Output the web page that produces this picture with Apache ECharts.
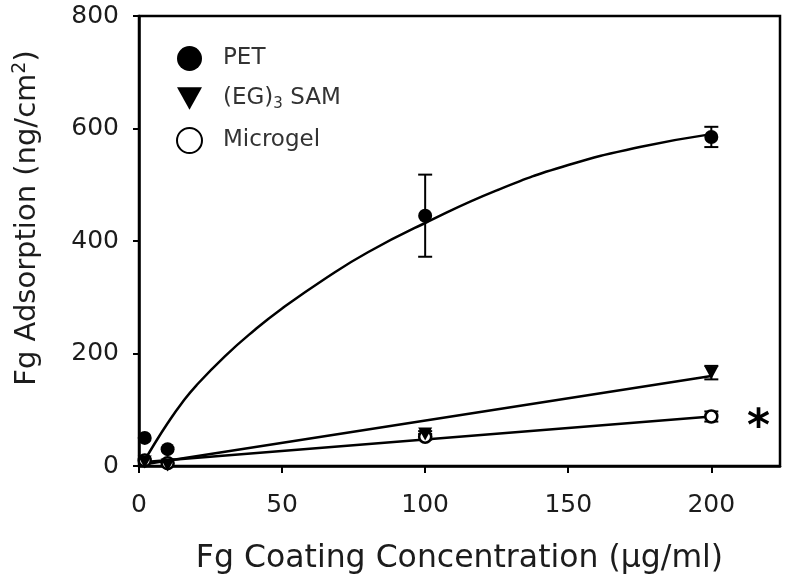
<!DOCTYPE html>
<html><head><meta charset="utf-8">
<script src="https://cdn.jsdelivr.net/npm/echarts@6/dist/echarts.min.js"></script>
<style>html,body{margin:0;padding:0;background:#fff}#c{width:790px;height:579px}</style>
</head><body><div id="c"></div>
<script>
// ---- data ----
const seriesNames = ['PET', '(EG)3 SAM', 'Microgel'];
const conc = [2, 10, 100, 200];
const petMean = [50, 30, 445, 585];
const petErr = [0, 0, 73, 18];
const samMean = [7, 2, 57, 166];
const samErr = [0, 0, 5, 12];
const gelMean = [10, 5, 52, 88];
const gelErr = [0, 0, 5, 9];
const petFitX = [2, 5, 10, 15, 20, 30, 40, 50, 65, 80, 100, 125, 150, 175, 200];
const petFitY = [10, 36, 76, 112, 143, 195, 240, 280, 333, 380, 432, 490, 535, 567, 590];
const samFitX = [2, 200];
const samFitY = [3, 160];
const gelFitX = [2, 200];
const gelFitY = [7, 88];
const xTicks = [0, 50, 100, 150, 200];
const yTicks = [0, 200, 400, 600, 800];
const starPos = [216.5, 66];

// ---- chart ----
const FONT = 'DejaVu Sans';
const TXT = '#1c1c1c';
const triDown = 'path://M0,0L20,0L10,18Z';
const zip = (a, b) => a.map((v, i) => [v, b[i]]);
const zip3 = (a, b, c) => a.map((v, i) => [v, b[i], c[i]]);

function errBar(params, api) {
  const x = api.value(0), y = api.value(1), e = api.value(2);
  if (!e) return null;
  const t = api.coord([x, y + e]), b = api.coord([x, y - e]);
  const w = 7;
  const st = { stroke: '#000', lineWidth: 2 };
  return { type: 'group', children: [
    { type: 'line', shape: { x1: t[0], y1: t[1], x2: b[0], y2: b[1] }, style: st },
    { type: 'line', shape: { x1: t[0] - w, y1: t[1], x2: t[0] + w, y2: t[1] }, style: st },
    { type: 'line', shape: { x1: b[0] - w, y1: b[1], x2: b[0] + w, y2: b[1] }, style: st }
  ]};
}

const chart = echarts.init(document.getElementById('c'));
const lineStyle = { color: '#000', width: 2.5 };
chart.setOption({
  animation: false,
  backgroundColor: '#fff',
  grid: { left: 139, top: 16, right: 10, bottom: 113, show: true, borderColor: '#000', borderWidth: 2.5,
    containLabel: false, outerBoundsMode: 'none' },
  legend: {
    orient: 'vertical', left: 171, top: 41, itemWidth: 25, itemHeight: 25, itemGap: 15,
    data: [
      { name: seriesNames[0], icon: 'circle', itemStyle: { color: '#000', opacity: 1 } },
      { name: seriesNames[1], icon: triDown, itemStyle: { color: '#000', opacity: 1 } },
      { name: seriesNames[2], icon: 'emptyCircle', itemStyle: { color: '#000', borderColor: '#000', borderWidth: 3, opacity: 1 } }
    ],
    formatter: n => n === seriesNames[1] ? '(EG){sub|3} SAM' : n,
    textStyle: {
      fontFamily: FONT, fontSize: 23, color: '#333', lineHeight: 25, padding: [0, 0, 0, 16],
      rich: { sub: { fontFamily: FONT, fontSize: 15, color: '#333', padding: [12, 0, 0, 0] } }
    }
  },
  xAxis: {
    type: 'value', min: 0, max: 224, interval: 50,
    name: 'Fg Coating Concentration (\u03bcg/ml)', nameLocation: 'middle', nameGap: 77,
    nameTextStyle: { fontFamily: FONT, fontSize: 31.5, color: TXT },
    axisLine: { lineStyle: { color: '#000', width: 2.5 } },
    axisTick: { show: true, length: 7, lineStyle: { color: '#000', width: 2 }, customValues: xTicks },
    axisLabel: { fontFamily: FONT, fontSize: 25, color: TXT, margin: 27, customValues: xTicks },
    splitLine: { show: false }
  },
  yAxis: {
    type: 'value', min: 0, max: 800, interval: 200,
    name: 'Fg Adsorption (ng/cm{sup|2})', nameLocation: 'middle', nameGap: 96, nameRotate: 90,
    nameTextStyle: {
      fontFamily: FONT, fontSize: 29, color: TXT, padding: [0, 0, 0, 46],
      rich: { sup: { fontFamily: FONT, fontSize: 19, color: TXT, padding: [0, 0, 13, 0] } }
    },
    axisLine: { lineStyle: { color: '#000', width: 2.5 } },
    axisTick: { show: true, length: 6, lineStyle: { color: '#000', width: 2 }, customValues: yTicks },
    axisLabel: { fontFamily: FONT, fontSize: 25, color: TXT, margin: 20, customValues: yTicks },
    splitLine: { show: false }
  },
  series: [
    { name: 'PET fit', type: 'line', data: zip(petFitX, petFitY), smooth: 0.5, showSymbol: false, lineStyle, z: 2 },
    { name: 'SAM fit', type: 'line', data: zip(samFitX, samFitY), showSymbol: false, lineStyle, z: 2 },
    { name: 'Microgel fit', type: 'line', data: zip(gelFitX, gelFitY), showSymbol: false, lineStyle, z: 2 },
    { name: 'PET err', type: 'custom', renderItem: errBar, data: zip3(conc, petMean, petErr), z: 3 },
    { name: 'SAM err', type: 'custom', renderItem: errBar, data: zip3(conc, samMean, samErr), z: 3 },
    { name: 'Microgel err', type: 'custom', renderItem: errBar, data: zip3(conc, gelMean, gelErr), z: 3 },
    { name: seriesNames[2], type: 'scatter', data: zip(conc, gelMean), symbol: 'circle', symbolSize: 12,
      itemStyle: { color: '#fff', borderColor: '#000', borderWidth: 2.5, opacity: 1 }, z: 4,
      markPoint: { symbol: 'circle', symbolSize: 1, itemStyle: { color: 'rgba(0,0,0,0)' },
        data: [{ coord: starPos, label: { show: true, position: 'inside', formatter: '*', fontFamily: FONT, fontWeight: 'bold', fontSize: 44, color: '#000' } }] } },
    { name: seriesNames[1], type: 'scatter', data: zip(conc, samMean), symbol: triDown, symbolSize: [14, 13],
      itemStyle: { color: '#000', opacity: 1 }, z: 5 },
    { name: seriesNames[0], type: 'scatter', data: zip(conc, petMean), symbol: 'circle', symbolSize: 14,
      itemStyle: { color: '#000', opacity: 1 }, z: 6 }
  ]
});
</script></body></html>
